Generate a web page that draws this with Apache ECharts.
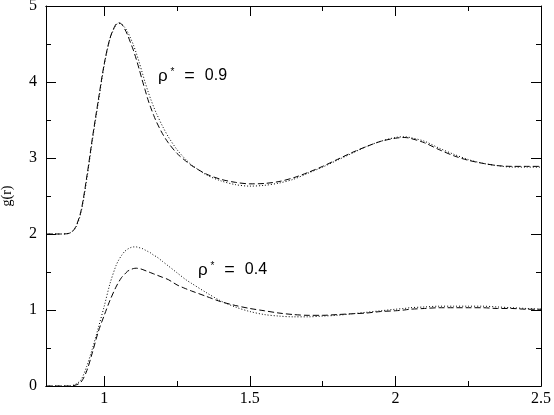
<!DOCTYPE html>
<html>
<head>
<meta charset="utf-8">
<script src="https://cdn.jsdelivr.net/npm/echarts@6/dist/echarts.min.js"></script>
<style>
	html, body { margin: 0; padding: 0; background: #fff; }
	.layer { position: absolute; left: 0; top: 0; width: 554px; height: 415px; }
</style>
</head>
<body>
<div id="frame" class="layer"></div>
<div id="curves" class="layer"></div>
<script>
// r grid shared by all four curves
const rValues = [0.80, 0.85, 0.88, 0.90, 0.92, 0.94, 0.96, 0.98, 1.00, 1.02,
	1.04, 1.05, 1.06, 1.07, 1.08, 1.09, 1.10, 1.11, 1.12, 1.13,
	1.14, 1.15, 1.16, 1.17, 1.18, 1.20, 1.22, 1.25, 1.28, 1.30,
	1.35, 1.40, 1.45, 1.50, 1.55, 1.60, 1.65, 1.70, 1.75, 1.80,
	1.85, 1.90, 1.95, 2.00, 2.03, 2.05, 2.10, 2.15, 2.20, 2.25,
	2.30, 2.35, 2.40, 2.45, 2.50];

// rho* = 0.9 (shifted up by 2)
const g09Dashed = [2.00, 2.00, 2.01, 2.08, 2.30, 2.75, 3.28, 3.77, 4.24, 4.58,
	4.76, 4.78, 4.76, 4.70, 4.62, 4.52, 4.42, 4.30, 4.17, 4.03,
	3.90, 3.77, 3.66, 3.56, 3.47, 3.32, 3.20, 3.06, 2.96, 2.90,
	2.79, 2.72, 2.68, 2.66, 2.665, 2.69, 2.74, 2.81, 2.89, 2.98,
	3.07, 3.15, 3.22, 3.26, 3.27, 3.26, 3.20, 3.11, 3.03, 2.97,
	2.93, 2.90, 2.89, 2.89, 2.89];
const g09Dotted = [2.00, 2.00, 2.01, 2.07, 2.28, 2.72, 3.25, 3.74, 4.22, 4.57,
	4.75, 4.77, 4.76, 4.72, 4.66, 4.58, 4.49, 4.38, 4.26, 4.13,
	4.00, 3.88, 3.77, 3.67, 3.58, 3.42, 3.28, 3.11, 2.98, 2.91,
	2.78, 2.70, 2.65, 2.63, 2.64, 2.67, 2.72, 2.80, 2.88, 2.97,
	3.06, 3.15, 3.22, 3.27, 3.28, 3.27, 3.22, 3.13, 3.05, 2.98,
	2.93, 2.90, 2.88, 2.88, 2.88];

// rho* = 0.4
const g04Dashed = [0, 0, 0, 0.01, 0.05, 0.20, 0.45, 0.72, 0.93, 1.13,
	1.30, 1.37, 1.43, 1.47, 1.51, 1.53, 1.545, 1.55, 1.545, 1.535,
	1.52, 1.505, 1.49, 1.475, 1.46, 1.43, 1.40, 1.33, 1.28, 1.25,
	1.18, 1.11, 1.06, 1.02, 0.99, 0.96, 0.94, 0.93, 0.93, 0.94,
	0.95, 0.96, 0.98, 0.99, 1.00, 1.01, 1.02, 1.03, 1.03, 1.03,
	1.03, 1.02, 1.02, 1.01, 1.01];
const g04Dotted = [0, 0, 0, 0.02, 0.08, 0.26, 0.50, 0.77, 1.05, 1.35,
	1.58, 1.66, 1.72, 1.77, 1.80, 1.82, 1.83, 1.83, 1.82, 1.81,
	1.79, 1.77, 1.75, 1.72, 1.70, 1.64, 1.58, 1.49, 1.40, 1.35,
	1.23, 1.12, 1.04, 0.98, 0.94, 0.92, 0.91, 0.91, 0.92, 0.93,
	0.95, 0.97, 0.99, 1.01, 1.02, 1.03, 1.04, 1.05, 1.05, 1.05,
	1.05, 1.04, 1.03, 1.02, 1.01];

const xMajorTicks = [1, 1.5, 2, 2.5];
const xMinorTicks = [1.25, 1.75, 2.25];

const serif = 'Liberation Serif';
const sans = 'Liberation Sans';
const gridBox = { left: 46, right: 13, top: 6, bottom: 29, outerBoundsMode: 'none' };

function curve(ys, dash) {
	return {
		type: 'line',
		showSymbol: false,
		smooth: 0.3,
		clip: true,
		data: rValues.map((r, i) => [r, ys[i]]),
		lineStyle: { color: '#000', width: 1, type: dash }
	};
}

function xAxisDef(position, ticks, len, labels) {
	return {
		type: 'value',
		position: position,
		min: 0.8,
		max: 2.5,
		axisLine: { show: true, onZero: false, lineStyle: { color: '#000', width: 1 } },
		axisTick: { show: true, inside: true, length: len, customValues: ticks, lineStyle: { color: '#000', width: 1 } },
		axisLabel: labels ? {
			show: true, customValues: ticks, color: '#000',
			fontFamily: serif, fontSize: 16, margin: 5
		} : { show: false },
		splitLine: { show: false },
		name: labels ? 'r' : '',
		nameLocation: 'middle',
		nameGap: 18,
		nameTextStyle: { color: '#000', fontFamily: serif, fontSize: 15 }
	};
}

function yAxisDef(position, labels) {
	return {
		type: 'value',
		position: position,
		min: 0,
		max: 5,
		interval: 1,
		axisLine: { show: true, onZero: false, lineStyle: { color: '#000', width: 1 } },
		axisTick: { show: true, inside: true, length: 10, lineStyle: { color: '#000', width: 1 } },
		minorTick: { show: true, splitNumber: 2, length: 5, lineStyle: { color: '#000', width: 1 } },
		axisLabel: labels ? {
			show: true, color: '#000', fontFamily: serif, fontSize: 16, margin: 9
		} : { show: false },
		splitLine: { show: false },
		name: labels ? 'g(r)' : '',
		nameLocation: 'middle',
		nameGap: 32,
		nameTextStyle: { color: '#000', fontFamily: serif, fontSize: 14 }
	};
}

function densityLabel(x, y, value) {
	return {
		type: 'text',
		left: x,
		top: y,
		style: {
			text: '{r|ρ}{s| *}{e|  =  }{v|' + value + '}',
			rich: {
				r: { fontFamily: sans, fontSize: 17, fill: '#000' },
				s: { fontFamily: sans, fontSize: 10, fill: '#000', verticalAlign: 'top' },
				e: { fontFamily: sans, fontSize: 18, fill: '#000' },
				v: { fontFamily: sans, fontSize: 16, fill: '#000' }
			}
		}
	};
}

// frame: box, ticks, tick labels and axis names
const frame = echarts.init(document.getElementById('frame'));
frame.setOption({
	animation: false,
	backgroundColor: '#fff',
	grid: gridBox,
	xAxis: [
		xAxisDef('bottom', xMajorTicks, 10, true),
		xAxisDef('bottom', xMinorTicks, 5, false),
		xAxisDef('top', xMajorTicks, 10, false),
		xAxisDef('top', xMinorTicks, 5, false)
	],
	yAxis: [yAxisDef('left', true), yAxisDef('right', false)]
});

// curves and density labels, on the same scales, transparent on top
const curves = echarts.init(document.getElementById('curves'));
curves.setOption({
	animation: false,
	grid: gridBox,
	xAxis: { type: 'value', min: 0.8, max: 2.5, show: false },
	yAxis: { type: 'value', min: 0, max: 5, show: false },
	series: [
		curve(g09Dotted, [1, 2]),
		curve(g09Dashed, [6, 3]),
		curve(g04Dotted, [1, 2]),
		curve(g04Dashed, [6, 3])
	],
	graphic: [densityLabel(158, 67, '0.9'), densityLabel(198, 261, '0.4')]
});
</script>
</body>
</html>
